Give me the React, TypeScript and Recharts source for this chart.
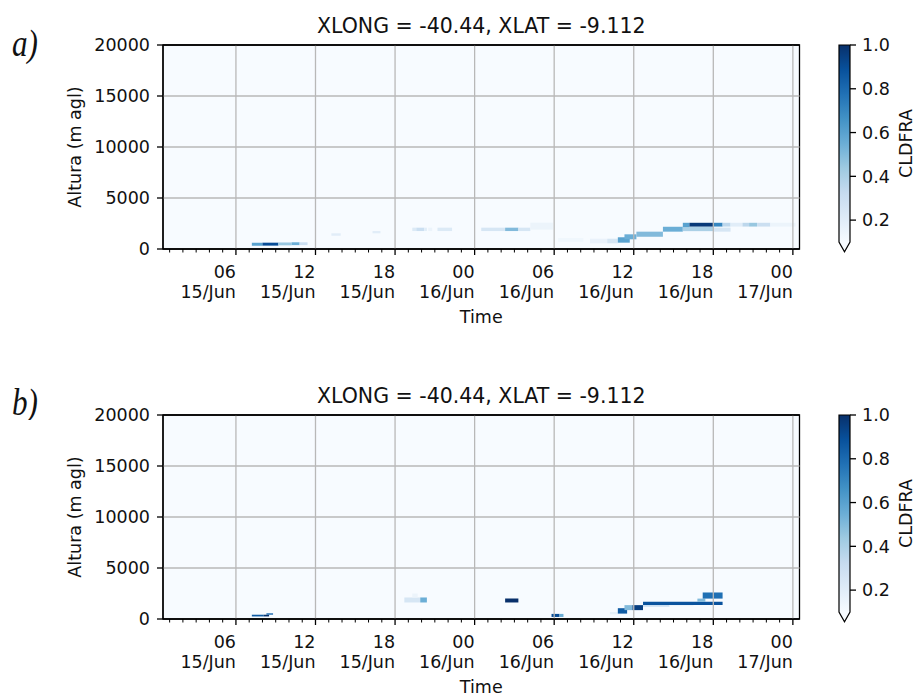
import React from 'react';
import { ComposedChart, XAxis, YAxis, ReferenceArea, ReferenceLine } from 'recharts';

const TITLE = 'XLONG = -40.44, XLAT = -9.112';
const X_DOMAIN: [number, number] = [0.5, 48.5];
const Y_DOMAIN: [number, number] = [0, 20000];
const VMIN = 0.1;
const VMAX = 1.0;

const hourTicks = [
  1, 2, 3, 4, 5, 6, 7, 8, 9, 10, 11, 12, 13, 14, 15, 16, 17, 18, 19, 20, 21, 22, 23, 24,
  25, 26, 27, 28, 29, 30, 31, 32, 33, 34, 35, 36, 37, 38, 39, 40, 41, 42, 43, 44, 45, 46, 47, 48,
];
const majorHours = [6, 12, 18, 24, 30, 36, 42, 48];
const hourLabels = ['06', '12', '18', '00', '06', '12', '18', '00'];
const dateLabels = ['15/Jun', '15/Jun', '15/Jun', '16/Jun', '16/Jun', '16/Jun', '16/Jun', '17/Jun'];
const heightTicks = [0, 5000, 10000, 15000, 20000];
const heightGrid = [5000, 10000, 15000];
const cbarTicks = [0.2, 0.4, 0.6, 0.8, 1.0];

// Blues colormap anchors
const BLUES = ['#f7fbff', '#deebf7', '#c6dbef', '#9ecae1', '#6baed6', '#4292c6', '#2171b5', '#08519c', '#08306b'];

// [tStart(h), tEnd(h), zBottom(m), zTop(m), CLDFRA]
const cellsA: [number, number, number, number, number][] = [
  [7.2, 8.0, 330, 620, 0.6],
  [8.0, 9.2, 330, 620, 0.9],
  [9.2, 10.2, 360, 640, 0.45],
  [10.2, 10.8, 380, 660, 0.55],
  [10.8, 11.4, 380, 660, 0.3],
  [13.2, 13.9, 1300, 1540, 0.2],
  [16.3, 16.9, 1540, 1760, 0.2],
  [19.3, 19.6, 1760, 2090, 0.22],
  [19.6, 20.2, 1760, 2090, 0.3],
  [20.2, 20.4, 1760, 2090, 0.2],
  [20.5, 20.8, 1760, 2090, 0.15],
  [21.2, 22.3, 1760, 2090, 0.22],
  [24.5, 26.3, 1760, 2090, 0.25],
  [26.3, 27.3, 1760, 2090, 0.5],
  [27.3, 28.2, 1760, 2090, 0.25],
  [28.2, 29.9, 1900, 2580, 0.15],
  [30.3, 32.2, 700, 1080, 0.13],
  [32.7, 34.0, 560, 1010, 0.16],
  [34.0, 34.8, 560, 1010, 0.25],
  [34.8, 35.7, 620, 1150, 0.6],
  [35.3, 36.2, 950, 1440, 0.55],
  [36.2, 38.2, 1200, 1700, 0.5],
  [38.2, 39.7, 1700, 2180, 0.55],
  [39.7, 42.0, 1750, 2200, 0.4],
  [42.0, 43.3, 1700, 2100, 0.25],
  [39.7, 40.2, 2150, 2570, 0.6],
  [40.2, 42.0, 2200, 2570, 0.97],
  [42.0, 42.7, 2200, 2570, 0.7],
  [42.7, 43.3, 2200, 2570, 0.35],
  [43.3, 44.2, 2200, 2570, 0.2],
  [44.2, 44.7, 2200, 2570, 0.35],
  [44.7, 45.3, 2200, 2570, 0.45],
  [45.3, 46.3, 2200, 2570, 0.3],
  [46.3, 48.2, 2200, 2570, 0.15],
];

const cellsB: [number, number, number, number, number][] = [
  [7.2, 8.1, 250, 420, 0.85],
  [8.1, 8.5, 250, 420, 1.0],
  [8.3, 8.8, 420, 560, 0.8],
  [18.7, 19.9, 1620, 2110, 0.25],
  [19.9, 20.4, 1620, 2110, 0.55],
  [19.3, 19.7, 2110, 2500, 0.15],
  [26.3, 27.3, 1620, 2010, 1.0],
  [29.8, 30.4, 200, 500, 0.9],
  [30.4, 30.7, 200, 500, 0.55],
  [34.2, 34.8, 460, 690, 0.18],
  [34.8, 35.5, 530, 1060, 0.85],
  [35.3, 35.9, 870, 1360, 0.5],
  [35.9, 36.7, 870, 1360, 0.95],
  [36.7, 38.7, 1200, 1380, 0.3],
  [38.7, 40.5, 1250, 1380, 0.15],
  [36.7, 42.7, 1380, 1680, 0.88],
  [40.8, 41.4, 1680, 2000, 0.5],
  [41.2, 42.7, 2000, 2600, 0.78],
];

function hexToRgb(h: string) {
  return [parseInt(h.slice(1, 3), 16), parseInt(h.slice(3, 5), 16), parseInt(h.slice(5, 7), 16)];
}
function bluesAt(t: number) {
  const c = Math.max(0, Math.min(1, t));
  const s = c * 8;
  const i = Math.min(7, Math.floor(s));
  const f = s - i;
  const a = hexToRgb(BLUES[i]);
  const b = hexToRgb(BLUES[i + 1]);
  const r = a.map((v, k) => Math.round(v + (b[k] - v) * f));
  return `rgb(${r[0]},${r[1]},${r[2]})`;
}
const cellColor = (v: number) => bluesAt((v - VMIN) / (VMAX - VMIN));

const TEXT = '#111';
const SPINE = { stroke: '#000', strokeWidth: 1.3 };

const TimeTick = (props: any) => {
  const { x, y, payload } = props;
  const idx = majorHours.indexOf(payload.value);
  const major = idx >= 0;
  return (
    <g>
      <line x1={x} x2={x} y1={y} y2={y + (major ? 6 : 3.5)} stroke="#000" strokeWidth={major ? 1.3 : 1} />
      {major && (
        <text x={x} y={y} textAnchor="end" fontSize={17.5} fill={TEXT}>
          <tspan x={x} dy={29}>{hourLabels[idx]}</tspan>
          <tspan x={x} dy={20}>{dateLabels[idx]}</tspan>
        </text>
      )}
    </g>
  );
};

function Panel({ cells, top }: { cells: [number, number, number, number, number][]; top: number }) {
  const data = cells.map((c) => ({ t0: c[0], t1: c[1], z0: c[2], z1: c[3], v: c[4] }));
  return (
    <div style={{ position: 'absolute', left: 0, top }}>
      <ComposedChart width={914} height={340} data={data} margin={{ top: 0, right: 114.5, bottom: 61, left: -13 }}>
        <XAxis
          xAxisId="top"
          orientation="top"
          dataKey="t0"
          type="number"
          domain={X_DOMAIN}
          allowDataOverflow
          height={45}
          tick={false}
          tickLine={false}
          axisLine={SPINE}
          label={{ value: TITLE, position: 'insideTop', offset: 18, fontSize: 20.5, fill: TEXT }}
        />
        <XAxis
          dataKey="t0"
          type="number"
          domain={X_DOMAIN}
          allowDataOverflow
          ticks={hourTicks}
          interval={0}
          tick={<TimeTick />}
          tickLine={false}
          tickSize={0}
          tickMargin={0}
          height={30}
          axisLine={SPINE}
          label={{ value: 'Time', position: 'insideTop', offset: 62, fontSize: 17.5, fill: TEXT }}
        />
        <YAxis
          dataKey="z0"
          type="number"
          domain={Y_DOMAIN}
          allowDataOverflow
          ticks={heightTicks}
          interval={0}
          width={176}
          tickSize={6}
          tickMargin={7}
          tick={{ fontSize: 17.5, fill: TEXT }}
          tickLine={SPINE}
          axisLine={SPINE}
          label={{ value: 'Altura (m agl)', angle: -90, position: 'center', fontSize: 17.5, fill: TEXT }}
        />
        <ReferenceArea x1={X_DOMAIN[0]} x2={X_DOMAIN[1]} y1={Y_DOMAIN[0]} y2={Y_DOMAIN[1]} fill={BLUES[0]} fillOpacity={1} stroke="none" ifOverflow="visible" />
        {data.map((c, i) => (
          <ReferenceArea
            key={`c${i}`}
            x1={c.t0}
            x2={c.t1}
            y1={c.z0}
            y2={c.z1}
            fill={cellColor(c.v)}
            fillOpacity={1}
            stroke="none"
            ifOverflow="visible"
          />
        ))}
        {majorHours.map((h) => (
          <ReferenceLine key={`v${h}`} x={h} stroke="#b8b8b8" strokeWidth={1.3} ifOverflow="visible" />
        ))}
        {heightGrid.map((z) => (
          <ReferenceLine key={`h${z}`} y={z} stroke="#b8b8b8" strokeWidth={1.3} ifOverflow="visible" />
        ))}
        <ReferenceArea x1={X_DOMAIN[0]} x2={X_DOMAIN[1]} y1={Y_DOMAIN[0]} y2={Y_DOMAIN[1]} fill="none" stroke="#000" strokeWidth={1.3} ifOverflow="visible" />
      </ComposedChart>
    </div>
  );
}

const cbarData = [
  { x: 0, v: VMIN },
  { x: 1, v: VMAX },
];

function Colorbar({ top, id }: { top: number; id: string }) {
  const Shape = (p: any) => {
    const { x, y, width, height } = p;
    const tri = height * 0.05;
    const b = y + height;
    return (
      <g>
        <rect x={x} y={y} width={width} height={height} fill={`url(#${id})`} />
        <polygon points={`${x},${b} ${x + width},${b} ${x + width / 2},${b + tri}`} fill={BLUES[0]} />
        <path
          d={`M${x},${y} L${x + width},${y} L${x + width},${b} L${x + width / 2},${b + tri} L${x},${b} Z`}
          fill="none"
          stroke="#000"
          strokeWidth={1.2}
        />
      </g>
    );
  };
  return (
    <div style={{ position: 'absolute', left: 820, top }}>
      <ComposedChart width={94} height={260} data={cbarData} margin={{ top: 45, right: -48, bottom: 18, left: 19 }}>
        <defs>
          <linearGradient id={id} x1="0" y1="1" x2="0" y2="0">
            {BLUES.map((c, i) => (
              <stop key={i} offset={i / 8} stopColor={c} />
            ))}
          </linearGradient>
        </defs>
        <XAxis dataKey="x" type="number" domain={[0, 1]} hide />
        <YAxis
          dataKey="v"
          orientation="right"
          type="number"
          domain={[VMIN, VMAX]}
          allowDataOverflow
          ticks={cbarTicks}
          interval={0}
          width={112}
          tickSize={6}
          tickMargin={6}
          tickFormatter={(v: number) => v.toFixed(1)}
          tick={{ fontSize: 17.5, fill: TEXT }}
          tickLine={SPINE}
          axisLine={false}
          label={{ value: 'CLDFRA', angle: -90, position: 'center', fontSize: 17.5, fill: TEXT }}
        />
        <ReferenceArea x1={0} x2={1} y1={VMIN} y2={VMAX} shape={Shape} ifOverflow="visible" />
      </ComposedChart>
    </div>
  );
}

export default function App() {
  return (
    <div
      style={{
        position: 'absolute',
        left: 0,
        top: 0,
        width: 914,
        height: 695,
        overflow: 'hidden',
        background: '#fff',
        fontFamily: '"DejaVu Sans", sans-serif',
      }}
    >
      <Panel cells={cellsA} top={0} />
      <Colorbar top={0} id="cbarA" />
      <Panel cells={cellsB} top={370} />
      <Colorbar top={370} id="cbarB" />
      <svg width={60} height={420} style={{ position: 'absolute', left: 0, top: 0 }}>
        <text x={12} y={56} fontFamily='"Liberation Serif", "Times New Roman", serif' fontStyle="italic" fontSize={38} fill={TEXT} transform="translate(12,56) scale(0.82,1) translate(-12,-56)">
          a)
        </text>
        <text x={12} y={415} fontFamily='"Liberation Serif", "Times New Roman", serif' fontStyle="italic" fontSize={38} fill={TEXT} transform="translate(12,415) scale(0.82,1) translate(-12,-415)">
          b)
        </text>
      </svg>
    </div>
  );
}
